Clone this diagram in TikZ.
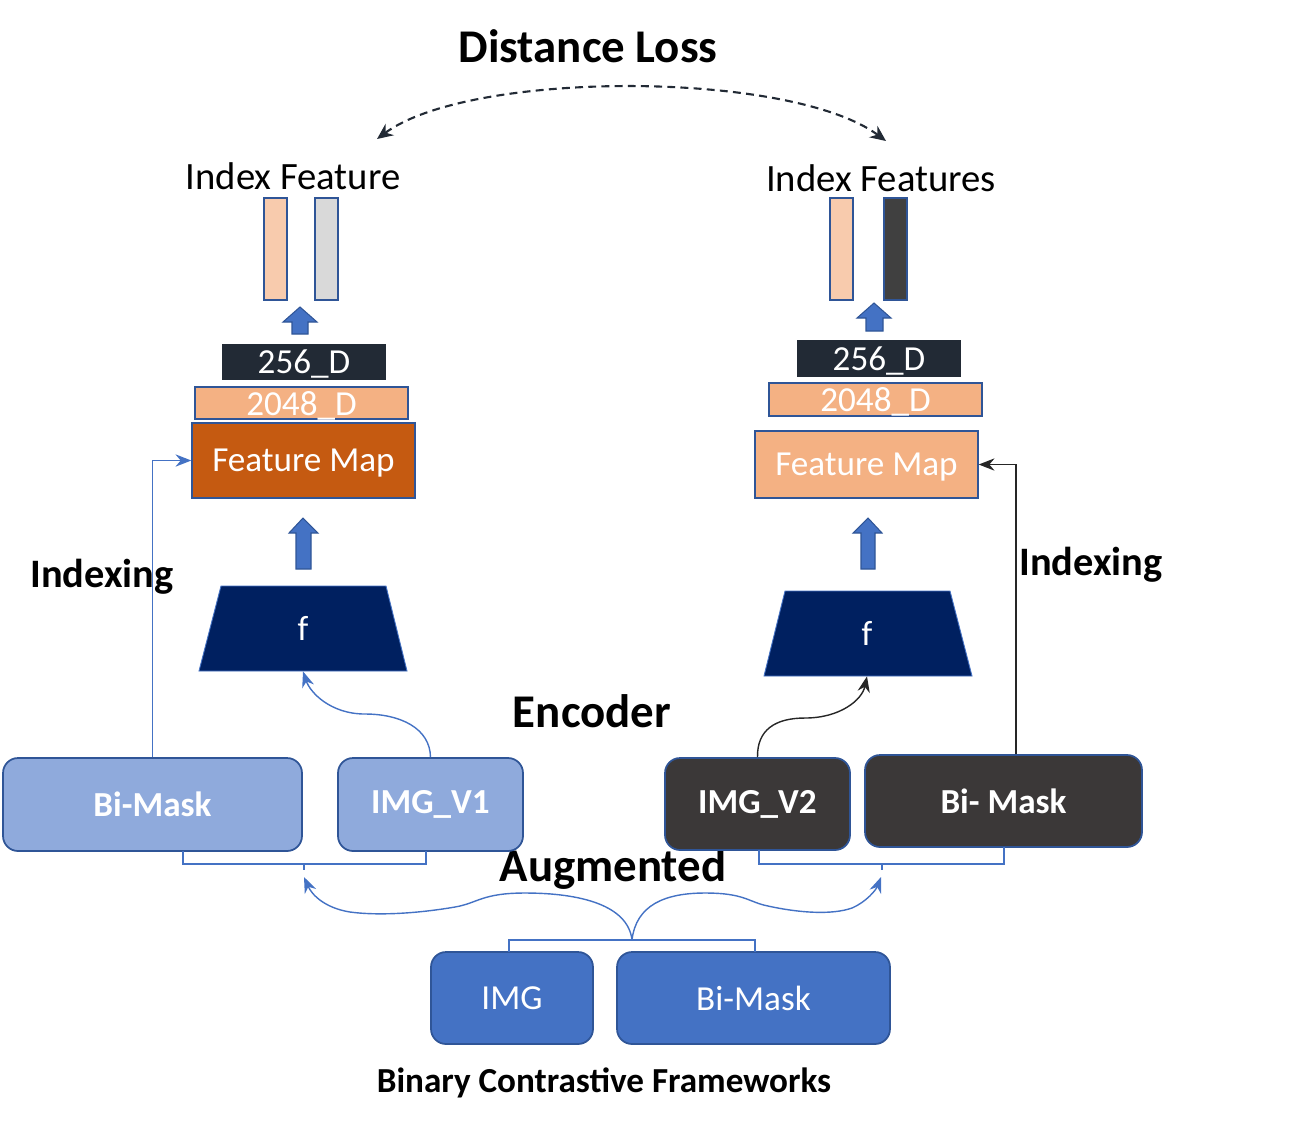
\documentclass[tikz,border=0pt]{standalone}
\usepackage{fontspec}
\setmainfont{Carlito}
\usetikzlibrary{arrows.meta,calc}
\definecolor{lb}{HTML}{8FAADC}
\definecolor{bd}{HTML}{2F5597}
\definecolor{mb}{HTML}{4472C4}
\definecolor{dg}{HTML}{3B3838}
\definecolor{nv}{HTML}{002060}
\definecolor{orng}{HTML}{C55A11}
\definecolor{pc}{HTML}{F4B183}
\definecolor{lp}{HTML}{F8CBAD}
\definecolor{gy}{HTML}{D9D9D9}
\definecolor{dk}{HTML}{222A35}
\definecolor{dbar}{HTML}{404040}
\definecolor{ln}{HTML}{262626}
\begin{document}
\begin{tikzpicture}[x=0.02cm,y=-0.02cm,
  rbox/.style={draw=bd, line width=1pt, rounded corners=0.3cm, inner sep=0pt, text=white},
  sbox/.style={draw=bd, line width=0.8pt, inner sep=0pt, text=white},
  t20/.style={font=\fontsize{20}{24}\selectfont},
  tb20/.style={font=\fontsize{20}{24}\selectfont\bfseries},
  head/.style={font=\fontsize{26.7}{32}\selectfont\bfseries},
  bl/.style={draw=mb, line width=0.8pt},
  blk/.style={fill=mb, draw=bd, line width=0.6pt},
  tip/.style={-{Stealth[length=9pt,width=7pt]}}
]
\useasboundingbox (0,0) rectangle (1293,1127);

% titles / labels
\node[head] (dl) at (588,46) {Distance Loss};
\node[font=\fontsize{22}{26}\selectfont] (ifl) at (293,176) {Index Feature};
\node[font=\fontsize{22}{26}\selectfont] (ifr) at (881,178) {Index Features};
\node[font=\fontsize{23}{28}\selectfont\bfseries] (ixl) at (102,577) {Indexing};
\node[font=\fontsize{23}{28}\selectfont\bfseries] (ixr) at (1091,565) {Indexing};
\node[head] (enc) at (592,711) {Encoder};
\node[head] (aug) at (613,869) {Augmented};
\node[font=\fontsize{20}{24}\selectfont\bfseries] (bcf) at (604,1083) {Binary Contrastive Frameworks};

% distance loss arc
\coordinate (al) at (377,139);
\coordinate (ar) at (886,141);
\draw[dk, line width=1.2pt, dash pattern=on 4.5pt off 3pt,
  {Stealth[length=9pt,width=8pt]}-{Stealth[length=9pt,width=8pt]}]
  (al) .. controls (470,70) and (790,70) .. (ar);

% index feature bars
\node[sbox, fill=lp, minimum width=0.46cm, minimum height=2.04cm] (bl1) at (275.5,249) {};
\node[sbox, fill=gy, minimum width=0.46cm, minimum height=2.04cm] (bl2) at (326.5,249) {};
\node[sbox, fill=lp, minimum width=0.46cm, minimum height=2.04cm] (br1) at (841.5,249) {};
\node[sbox, fill=dbar, minimum width=0.46cm, minimum height=2.04cm] (br2) at (895.5,249) {};

% small block arrows
\filldraw[blk] (300,307) -- (317,322) -- (308,322) -- (308,334) -- (292,334) -- (292,322) -- (283,322) -- cycle;
\filldraw[blk] (874,303) -- (891,318) -- (883,318) -- (883,331) -- (866,331) -- (866,318) -- (857,318) -- cycle;

% left stack
\node[t20, text=white, fill=dk, inner sep=0pt, text depth=0pt, minimum width=3.28cm, minimum height=0.72cm] (d256l) at (304,362) {256\_D};
\node[sbox, t20, text depth=0pt, fill=pc, minimum width=4.26cm, minimum height=0.64cm] (d2048l) at (301.5,403) {2048\_D};
\node[sbox, t20, text depth=0pt, fill=orng, minimum width=4.46cm, minimum height=1.5cm] (fml) at (303.5,460.5) {Feature Map};

% right stack
\node[t20, text=white, fill=dk, inner sep=0pt, text depth=0pt, minimum width=3.28cm, minimum height=0.74cm] (d256r) at (879,358.5) {256\_D};
\node[sbox, t20, text depth=0pt, fill=pc, minimum width=4.26cm, minimum height=0.66cm] (d2048r) at (875.5,399.5) {2048\_D};
\node[sbox, t20, text depth=0pt, fill=pc, minimum width=4.46cm, minimum height=1.34cm] (fmr) at (866.5,464.5) {Feature Map};

% big block arrows
\filldraw[blk] (303,518) -- (318,533) -- (311,533) -- (311,569) -- (296,569) -- (296,533) -- (289,533) -- cycle;
\filldraw[blk] (868,518) -- (882,533) -- (875,533) -- (875,569) -- (861,569) -- (861,533) -- (853,533) -- cycle;

% encoders
\filldraw[fill=nv, draw=mb, line width=0.5pt] (221,586) -- (386,586) -- (407,671) -- (199,671) -- cycle;
\node[t20, text=white, minimum width=4.16cm, minimum height=1.7cm, inner sep=0pt] (encl) at (303,628.5) {f};
\filldraw[fill=nv, draw=mb, line width=0.5pt] (785,591) -- (950,591) -- (972,676) -- (764,676) -- cycle;
\node[t20, text=white, minimum width=4.16cm, minimum height=1.7cm, inner sep=0pt] (encr) at (867,633.5) {f};

% view boxes
\node[rbox, tb20, fill=lb, minimum width=5.98cm, minimum height=1.86cm] (bml) at (152.5,804.5) {Bi-Mask};
\node[rbox, tb20, fill=lb, minimum width=3.7cm, minimum height=1.86cm] (v1) at (430.5,804.5) {IMG\_V1};
\node[rbox, tb20, fill=dg, minimum width=3.7cm, minimum height=1.84cm] (v2) at (757.5,804) {IMG\_V2};
\node[rbox, tb20, fill=dg, minimum width=5.54cm, minimum height=1.84cm] (bmr) at (1003.5,801) {Bi- Mask};

% input boxes
\node[rbox, t20, fill=mb, minimum width=3.24cm, minimum height=1.84cm] (img) at (512,998) {IMG};
\node[rbox, t20, fill=mb, minimum width=5.46cm, minimum height=1.84cm] (bmb) at (753.5,998) {Bi-Mask};

% indexing connectors
\draw[bl, tip] (bml.north) |- (fml.west);
\draw[ln, line width=0.8pt, tip] ($(bmr.north)+(12.5,0)$) |- (fmr.east);

% encoder inputs
\draw[bl, tip] (v1.north) .. controls (430,728) and (400,714) .. (365,714) .. controls (330,714) and (310,692) .. (encl.south);
\draw[ln, line width=0.8pt, tip] (v2.north) .. controls (757,730) and (775,718) .. (805,718) .. controls (840,718) and (862,700) .. (encr.south);

% brackets
\draw[mb, line width=0.6pt] (183,851) -- (183,864) -- (426,864) -- (426,851);
\draw[mb, line width=0.6pt] (304,864) -- (304,870);
\draw[mb, line width=0.6pt] (759,850) -- (759,864) -- (1004,864) -- (1004,847);
\draw[mb, line width=0.6pt] (882,864) -- (882,870);
\draw[mb, line width=0.6pt] (509,952) -- (509,940) -- (755,940) -- (755,952);
\coordinate (bc) at (632,940);
\coordinate (tl) at (304,877);
\coordinate (tr) at (881,877);
\draw[bl, tip] (bc) .. controls (628,905) and (580,893) .. (525,893) .. controls (482,893) and (478,903) .. (455,907) .. controls (420,913) and (380,916) .. (350,912) .. controls (325,908) and (312,895) .. (tl);
\draw[bl, tip] (bc) .. controls (636,905) and (665,893) .. (705,893) .. controls (745,893) and (748,902) .. (768,906) .. controls (800,913) and (832,915) .. (852,908) .. controls (866,902) and (876,890) .. (tr);
\end{tikzpicture}
\end{document}
